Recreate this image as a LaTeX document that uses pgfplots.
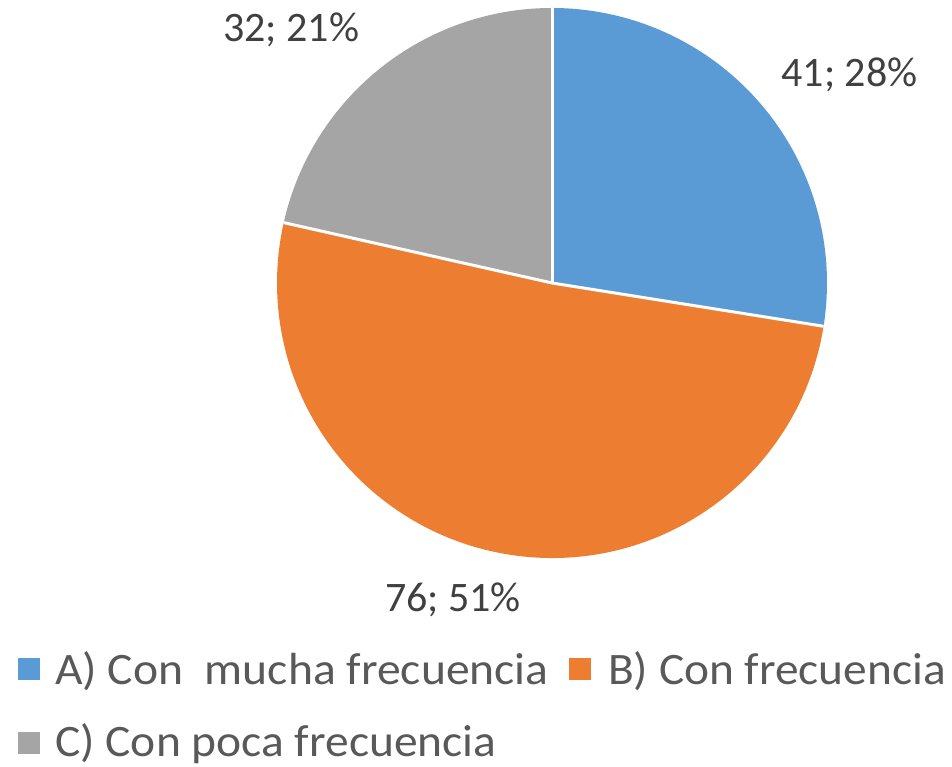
\documentclass[border=0pt]{standalone}
\usepackage{pgfplots}
\usepackage{pgfplotstable}
\pgfplotsset{compat=1.18}
\usepackage{fontspec}
\setmainfont{Carlito}
\definecolor{cA}{HTML}{5B9BD5}
\definecolor{cB}{HTML}{ED7D31}
\definecolor{cC}{HTML}{A5A5A5}
\definecolor{lbl}{HTML}{404040}
\definecolor{leg}{HTML}{595959}
\pgfplotstableread{
label value
A 41
B 76
C 32
}\piedata
\begin{document}
\begin{tikzpicture}[x=1pt,y=1pt]
\useasboundingbox (0,0) rectangle (952,767);
\pgfplotstablegetelem{0}{value}\of\piedata \let\va\pgfplotsretval
\pgfplotstablegetelem{1}{value}\of\piedata \let\vb\pgfplotsretval
\pgfplotstablegetelem{2}{value}\of\piedata \let\vc\pgfplotsretval
\pgfmathsetmacro{\total}{\va+\vb+\vc}
\pgfmathsetmacro{\aS}{90}
\pgfmathsetmacro{\aA}{90-\va/\total*360}
\pgfmathsetmacro{\aB}{\aA-\vb/\total*360}
\pgfmathsetmacro{\aC}{\aB-\vc/\total*360}
\begin{axis}[
  at={(552pt,484pt)}, anchor=center,
  width=550pt, height=550pt, scale only axis,
  xmin=-1, xmax=1, ymin=-1, ymax=1,
  hide axis, clip=false,
]
\fill[cA] (axis cs:0,0) -- (axis cs:{cos(\aS)},{sin(\aS)}) arc[start angle=\aS, end angle=\aA, radius=275pt] -- cycle;
\fill[cB] (axis cs:0,0) -- (axis cs:{cos(\aA)},{sin(\aA)}) arc[start angle=\aA, end angle=\aB, radius=275pt] -- cycle;
\fill[cC] (axis cs:0,0) -- (axis cs:{cos(\aB)},{sin(\aB)}) arc[start angle=\aB, end angle=\aC, radius=275pt] -- cycle;
\draw[white, line width=3pt] (axis cs:0,0) -- (axis cs:{cos(\aS)},{sin(\aS)});
\draw[white, line width=3pt] (axis cs:0,0) -- (axis cs:{cos(\aA)},{sin(\aA)});
\draw[white, line width=3pt] (axis cs:0,0) -- (axis cs:{cos(\aB)},{sin(\aB)});
\node[overlay, text=lbl, font=\fontsize{42}{50}\selectfont, inner sep=0] at (axis cs:1.082,0.756) {41; 28\%};
\node[overlay, text=lbl, font=\fontsize{42}{50}\selectfont, inner sep=0] at (axis cs:-0.949,0.92) {32; 21\%};
\node[overlay, text=lbl, font=\fontsize{42}{50}\selectfont, inner sep=0] at (axis cs:-0.360,-1.153) {76; 51\%};
\end{axis}
\fill[cA] (18,87) rectangle (40,109);
\fill[cB] (569,87) rectangle (591,109);
\fill[cC] (18,13) rectangle (40,35);
\node[anchor=base west, inner sep=0, text=leg, font=\fontsize{45}{54}\selectfont] at (55,82) {\scalebox{1.058}[1]{A) Con\ \ mucha frecuencia}};
\node[anchor=base west, inner sep=0, text=leg, font=\fontsize{45}{54}\selectfont] at (608,82) {\scalebox{1.053}[1]{B) Con frecuencia}};
\node[anchor=base west, inner sep=0, text=leg, font=\fontsize{45}{54}\selectfont] at (55,10) {\scalebox{1.056}[1]{C) Con poca frecuencia}};
\end{tikzpicture}
\end{document}
